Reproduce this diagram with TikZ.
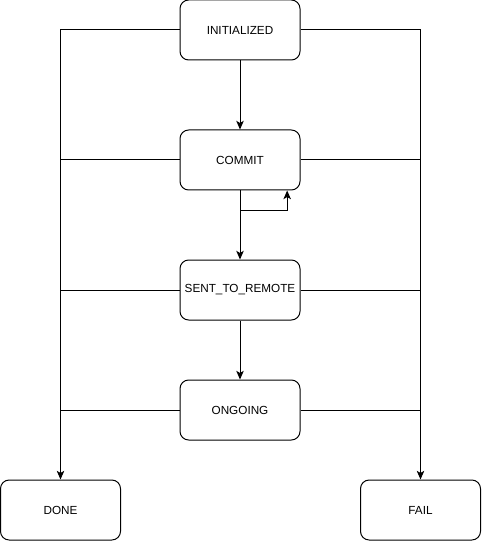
\documentclass[tikz,border=0pt]{standalone}
\usepackage{fontspec}
\setmainfont{Liberation Sans}
\usetikzlibrary{arrows.meta, positioning}

\begin{document}
\begin{tikzpicture}[x=0.75pt, y=-0.75pt, >={Stealth[length=6.5pt, width=5.6pt, inset=1.6pt]},
    state/.style={draw, line width=0.75pt, rounded corners=6.5pt, minimum width=90pt, minimum height=45pt,
        inner sep=0pt, font=\fontsize{8.8}{10}\selectfont},
    link/.style={line width=0.75pt}]
\useasboundingbox (0,0) rectangle (481,541);

% Draw the states in a column, end states at the bottom
    \node [state] (init) at (240,30) {INITIALIZED};
    \node [state] (commit) at (240,160) {COMMIT};
    \node [state] (sent) at (240,290) {SENT\_TO\_REMOTE};
    \node [state] (ongoing) at (240,410) {ONGOING};
    \node [state] (done) at (60.5,510) {DONE};
    \node [state] (fail) at (420.5,510) {FAIL};

    % Main flow down the column
    \draw [link,->] (init) -- (commit);
    \draw [link,->] (commit) -- (sent);
    \draw [link,->] (sent) -- (ongoing);

    % Retry loop on the commit state
    \coordinate (retry) at ([xshift=-10]commit.south east);
    \draw [link,->] (commit.south) -- ++(0,20) -| (retry);

    % Side rails towards the end states
    \draw [link,->] (init.west) -| (done.north);
    \draw [link,->] (init.east) -| (fail.north);
\foreach \s in {commit, sent, ongoing} {
        % Join each state to both rails
        \draw [link] (\s.west) -- (\s.west -| done.north);
        \draw [link] (\s.east) -- (\s.east -| fail.north);
    }

\end{tikzpicture}
\end{document}
